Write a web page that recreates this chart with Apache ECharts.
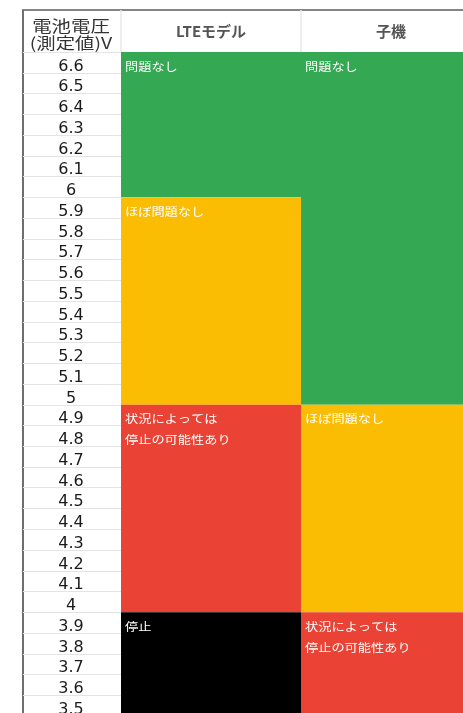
<!DOCTYPE html>
<html>
<head>
<meta charset="utf-8">
<script src="https://cdn.jsdelivr.net/npm/echarts@6/dist/echarts.min.js"></script>
<style>
html, body { margin: 0; padding: 0; background: #fff; }
#chart { width: 463px; height: 713px; }
</style>
</head>
<body>
<div id="chart"></div>
<script>
// 電圧（行）
const voltages = ['6.6', '6.5', '6.4', '6.3', '6.2', '6.1', '6', '5.9', '5.8', '5.7', '5.6', '5.5',
  '5.4', '5.3', '5.2', '5.1', '5', '4.9', '4.8', '4.7', '4.6', '4.5', '4.4', '4.3', '4.2', '4.1',
  '4', '3.9', '3.8', '3.7', '3.6', '3.5']
const columns = ['LTEモデル', '子機']
const headerTitle = ['電池電圧', '(測定値)V']
const levels = ['問題なし', 'ほぼ問題なし', '状況によっては\n停止の可能性あり', '停止']

// LTEモデル
const lteTop = ['6.6', '5.9', '4.9', '3.9']
const lteBottom = ['6', '5', '4', '3.5']
const lteLevel = [0, 1, 2, 3]
// 子機
const koTop = ['6.6', '4.9', '3.9']
const koBottom = ['5', '4', '3.5']
const koLevel = [0, 1, 2]

const levelColors = ['#34a853', '#fbbc04', '#ea4335', '#000000']

const blocks = []
lteTop.forEach((t, i) => {
  blocks.push([0, voltages.indexOf(t), voltages.indexOf(lteBottom[i]), lteLevel[i]])
})
koTop.forEach((t, i) => {
  blocks.push([1, voltages.indexOf(t), voltages.indexOf(koBottom[i]), koLevel[i]])
})

function renderItem(params, api) {
  const col = api.value(0)
  const top = api.value(1)
  const bottom = api.value(2)
  const level = api.value(3)
  const p = api.coord([col, top])
  const size = api.size([1, 1])
  const x = p[0] - size[0] / 2
  const y = p[1] - size[1] / 2
  const h = (bottom - top + 1) * size[1]
  return {
    type: 'group',
    children: [
      {
        type: 'rect',
        shape: { x: x, y: y, width: size[0], height: h },
        style: { fill: levelColors[level] }
      },
      {
        type: 'text',
        x: x + 4,
        y: y + 4,
        scaleX: 1.2,
        style: {
          text: levels[level],
          fill: '#ffffff',
          fontSize: 11,
          fontFamily: '"Noto Sans CJK JP"',
          lineHeight: size[1],
          verticalAlign: 'top',
          align: 'left'
        }
      }
    ]
  }
}

const chart = echarts.init(document.getElementById('chart'))
const option = {
  animation: false,
  grid: { left: 121, top: 52, width: 360, height: 664, outerBoundsMode: 'none', containLabel: false },
  xAxis: {
    type: 'category',
    position: 'top',
    data: columns,
    axisLine: { show: false },
    axisTick: { show: true, length: 42, lineStyle: { color: '#e9e9e9', width: 1.5 } },
    axisLabel: {
      margin: 21,
      verticalAlign: 'middle',
      color: '#555555',
      fontSize: 15,
      fontWeight: 'bold',
      fontFamily: '"Noto Sans CJK JP"'
    },
    splitLine: { show: false }
  },
  yAxis: {
    type: 'category',
    inverse: true,
    data: voltages,
    axisLine: { show: false },
    axisTick: { show: true, interval: 0, length: 98, lineStyle: { color: '#e4e4e4', width: 1 } },
    axisLabel: {
      interval: 0,
      margin: 50,
      align: 'center',
      verticalAlign: 'top',
      lineHeight: 8,
      color: '#1a1a1a',
      fontSize: 16,
      fontFamily: '"DejaVu Sans"'
    },
    splitLine: { show: false }
  },
  graphic: [
    {
      type: 'line',
      shape: { x1: 22, y1: 10, x2: 463, y2: 10 },
      style: { stroke: '#858585', lineWidth: 2 }
    },
    {
      type: 'line',
      shape: { x1: 23, y1: 10, x2: 23, y2: 713 },
      style: { stroke: '#6e6e6e', lineWidth: 2 }
    },
    {
      type: 'text',
      x: 71,
      y: 26,
      scaleX: 1.25,
      style: {
        text: headerTitle[0],
        fill: '#333333',
        fontSize: 15.5,
        fontFamily: '"Noto Sans CJK JP"',
        align: 'center',
        verticalAlign: 'middle'
      }
    },
    {
      type: 'text',
      x: 71,
      y: 43,
      scaleX: 1.25,
      style: {
        text: headerTitle[1],
        fill: '#333333',
        fontSize: 15.5,
        fontFamily: '"Noto Sans CJK JP"',
        align: 'center',
        verticalAlign: 'middle'
      }
    }
  ],
  series: [
    {
      type: 'custom',
      renderItem: renderItem,
      encode: { x: 0, y: 1 },
      data: blocks
    }
  ]
}
chart.setOption(option)
</script>
</body>
</html>
